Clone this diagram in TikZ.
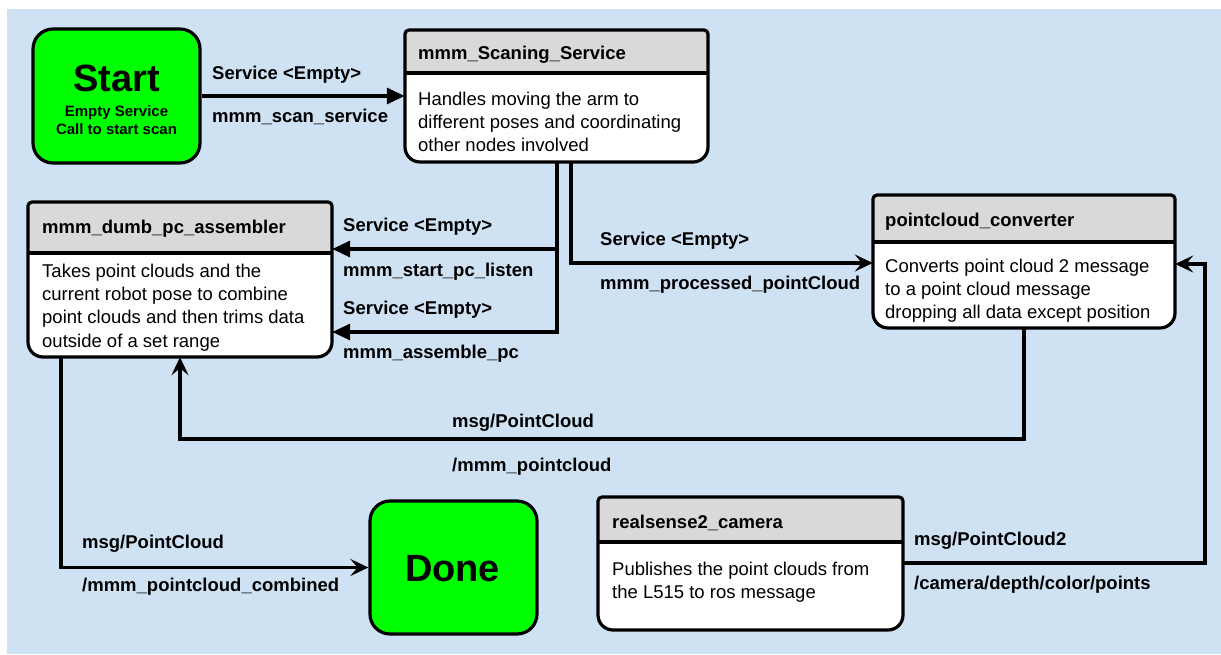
\documentclass[tikz,border=0pt]{standalone}
\usepackage{fontspec}
\setmainfont{Liberation Sans}
\usetikzlibrary{arrows.meta}

\definecolor{canvas}{HTML}{CFE2F3}
\definecolor{headgray}{HTML}{D9D9D9}
\definecolor{termgreen}{HTML}{00FF00}

% ROS node box: #1 name, #2 left, #3 top, #4 right, #5 bottom, #6 header bottom
\newcommand\rosbox[6]{%
  \begin{scope}
    \clip (#2,#6) [rounded corners=15pt] -- (#2,#5) -- (#4,#5) -- (#4,#6)
          [rounded corners=4pt] -- (#4,#3) -- (#2,#3) -- cycle;
    \fill[white] (#2,#3) rectangle (#4,#5);
    \fill[headgray] (#2,#3) rectangle (#4,#6);
  \end{scope}
  \draw[outl] (#2,#6) [rounded corners=15pt] -- (#2,#5) -- (#4,#5) -- (#4,#6)
        [rounded corners=4pt] -- (#4,#3) -- (#2,#3) -- cycle;
  \draw[outl] (#2,#6) -- (#4,#6);
  \node[inner sep=0pt, minimum width={#4-#2}, minimum height={#5-#3}]
    (#1) at ({(#2+#4)/2},{(#3+#5)/2}) {};
}

\tikzset{
  outl/.style={draw=black, line width=3.2pt},
  term/.style={draw=black, line width=3.2pt, fill=termgreen, rounded corners=20pt, inner sep=0pt},
  ttl/.style={anchor=base west, inner sep=0pt, font=\fontsize{18.5}{23}\selectfont\bfseries},
  body/.style={anchor=north west, inner sep=0pt, align=left, font=\fontsize{18.5}{23.2}\selectfont},
  lbl/.style={anchor=base west, inner sep=0pt, font=\fontsize{18.5}{23}\selectfont\bfseries},
  svc/.style={line width=3.2pt, -{Triangle[length=18pt,width=16pt]}},
  topic/.style={line width=3.2pt, -{Stealth[length=18pt,width=17pt,inset=7pt]}},
}

\begin{document}
\begin{tikzpicture}[x=1pt,y=-1pt]
  \useasboundingbox (0,0) rectangle (1221,654);
  \fill[canvas] (7,9) rectangle (1221,654);

  % start / done terminals
  \node[term, minimum width=167pt, minimum height=134pt] (start) at (116.5,96) {};
  \node[anchor=base, inner sep=0pt, font=\fontsize{38}{40}\selectfont\bfseries] (startT) at (116.5,91.7) {Start};
  \node[anchor=base, inner sep=0pt, font=\fontsize{15}{18}\selectfont\bfseries] (startS1) at (116.5,116.7) {Empty Service};
  \node[anchor=base, inner sep=0pt, font=\fontsize{15}{18}\selectfont\bfseries] (startS2) at (116.5,134.3) {Call to start scan};

  \node[term, minimum width=167pt, minimum height=133pt] (done) at (453.5,567.5) {};
  \node[anchor=base, inner sep=0pt, font=\fontsize{38}{40}\selectfont\bfseries] (doneT) at (452.5,581.7) {Done};

  % ROS nodes
  \rosbox{scan}{405}{30}{708}{162}{73}
  \node[ttl] (scanT) at (418,59) {mmm\_Scaning\_Service};
  \node[body] (scanB) at (418,88.8) {\strut Handles moving the arm to\\different poses and coordinating\\other nodes involved};

  \rosbox{asm}{28}{202}{332}{357}{253}
  \node[ttl] (asmT) at (42,233) {mmm\_dumb\_pc\_assembler};
  \node[body] (asmB) at (42,261.1) {\strut Takes point clouds and the\\current robot pose to combine\\point clouds and then trims data\\outside of a set range};

  \rosbox{conv}{873}{195}{1175}{328}{242}
  \node[ttl] (convT) at (885,226) {pointcloud\_converter};
  \node[body] (convB) at (885,256.1) {\strut Converts point cloud 2 message\\to a point cloud message\\dropping all data except position};

  \rosbox{cam}{598}{497}{903}{630}{542}
  \node[ttl] (camT) at (612,528) {realsense2\_camera};
  \node[body] (camB) at (612,558.8) {\strut Publishes the point clouds from\\the L515 to ros message};

  % connectors
  \draw[svc] (start.east) -- (scan.west);
  \node[lbl] (l1a) at (212,79.3) {Service <Empty>};
  \node[lbl] (l1b) at (212,122.7) {mmm\_scan\_service};

  \draw[svc] (scan.south -| 557,0) |- (asm.east |- 0,249);
  \draw[svc] (scan.south -| 557,0) |- (asm.east |- 0,332);
  \node[lbl] (l2a) at (343,231.5) {Service <Empty>};
  \node[lbl] (l2b) at (343,276) {mmm\_start\_pc\_listen};
  \node[lbl] (l3a) at (343,314.5) {Service <Empty>};
  \node[lbl] (l3b) at (343,358.5) {mmm\_assemble\_pc};

  \draw[topic] (scan.south -| 571,0) |- (conv.west |- 0,263);
  \node[lbl] (l4a) at (600,245) {Service <Empty>};
  \node[lbl] (l4b) at (600,289.3) {mmm\_processed\_pointCloud};

  \draw[topic] (conv.south -| 1024,0) |- (180,439) -- (asm.south -| 180,0);
  \node[lbl] (l5a) at (452,427.3) {msg/PointCloud};
  \node[lbl] (l5b) at (452,471) {/mmm\_pointcloud};

  \draw[topic] (asm.south -| 61,0) |- (done.west);
  \node[lbl] (l6a) at (82,548) {msg/PointCloud};
  \node[lbl] (l6b) at (82,591.5) {/mmm\_pointcloud\_combined};

  \draw[topic] (cam.east |- 0,563) -| (1205,264) -- (conv.east |- 0,264);
  \node[lbl] (l7a) at (914,545) {msg/PointCloud2};
  \node[lbl] (l7b) at (914,589) {/camera/depth/color/points};
\end{tikzpicture}
\end{document}
